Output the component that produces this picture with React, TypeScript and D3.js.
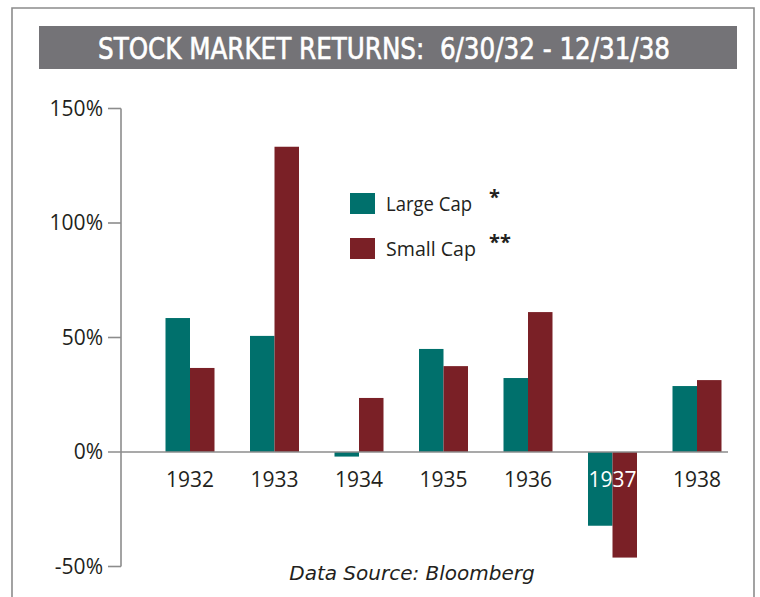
import React from "react";
import * as d3 from "d3";

const years = ["1932", "1933", "1934", "1935", "1936", "1937", "1938"];
const largeCap = [58.5, 50.7, -2.0, 45.0, 32.3, -32.2, 28.8];
const smallCap = [36.7, 133.3, 23.6, 37.5, 61.1, -46.1, 31.4];
const seriesNames = ["Large Cap", "Small Cap"];
const seriesMarks = ["*", "**"];
const seriesColors = ["#00706C", "#7A2026"];
const yTicks = [150, 100, 50, 0, -50];
const title = "STOCK MARKET RETURNS:\u00A0 6/30/32 - 12/31/38";
const source = "Data Source: Bloomberg";

export default function App() {
  const W = 760, H = 597;
  const axisX = 121;
  const baselineEnd = 728;
  const y = d3.scaleLinear().domain([-50, 150]).range([566.5, 108.5]);
  const x = d3.scaleBand<string>().domain(years).range([147.75, 739.25]).padding(0);
  const inner = d3.scaleBand<string>().domain(seriesNames).range([0, 49]).padding(0);
  const groupOffset = (x.bandwidth() - 49) / 2;
  const data = [largeCap, smallCap];
  const textColor = "#231F20";
  const axisColor = "#8C8C8C";
  const labelFont = "'Open Sans', sans-serif";

  return (
    <svg width={W} height={H} style={{ position: "absolute", left: 0, top: 0, display: "block" }}>
      <rect x={0} y={0} width={W} height={H} fill="#fff" />
      {/* frame */}
      <path d={`M12,${H + 5} L12,8 L754,8 L754,${H + 5}`} fill="none" stroke={axisColor} strokeWidth={1.6} />
      {/* title bar */}
      <rect x={39} y={26} width={698} height={43} fill="#747377" />
      <text x={384} y={59} textAnchor="middle" fill="#fff"
        style={{ fontFamily: "'Liberation Sans Narrow', 'DejaVu Sans Condensed', sans-serif", fontWeight: 400, fontSize: 30, stroke: "#fff", strokeWidth: 0.6 }}
        textLength={572} lengthAdjust="spacingAndGlyphs">{title}</text>

      {/* bars */}
      {data.map((vals, si) =>
        years.map((yr, i) => {
          const v = vals[i];
          const x0 = (x(yr) as number) + groupOffset + (inner(seriesNames[si]) as number);
          const y0 = y(Math.max(0, v));
          const h = Math.abs(y(v) - y(0));
          return <rect key={`${si}-${yr}`} x={x0} y={y0} width={inner.bandwidth()} height={h} fill={seriesColors[si]} />;
        })
      )}

      {/* y axis */}
      <line x1={axisX} x2={axisX} y1={y(150)} y2={y(-50)} stroke={axisColor} strokeWidth={1.6} />
      {yTicks.map((t) => (
        <g key={t}>
          <line x1={108} x2={t === 0 ? baselineEnd : axisX} y1={y(t)} y2={y(t)} stroke={axisColor} strokeWidth={1.6} />
          <text x={103} y={y(t)} dy="0.35em" textAnchor="end" fill={textColor}
            style={{ fontFamily: labelFont, fontSize: 21 }}>{`${t}%`}</text>
        </g>
      ))}

      {/* x labels */}
      {years.map((yr, i) => {
        const inside = Math.min(largeCap[i], smallCap[i]) < -15;
        return (
          <text key={yr} x={(x(yr) as number) + x.bandwidth() / 2} y={487} textAnchor="middle"
            fill={inside ? "#fff" : textColor} style={{ fontFamily: labelFont, fontSize: 21 }}>{yr}</text>
        );
      })}

      {/* legend */}
      {seriesNames.map((s, i) => (
        <g key={s} transform={`translate(350, ${193 + i * 45})`}>
          <rect x={0} y={0} width={25} height={21} fill={seriesColors[i]} />
          <text x={36} y={10.5} dy="0.35em" fill={textColor} style={{ fontFamily: labelFont, fontSize: 20 }}
            textLength={i === 0 ? 86 : 90} lengthAdjust="spacingAndGlyphs">{s}</text>
          <text x={139} y={4} dy="0.35em" fill={textColor} style={{ fontFamily: labelFont, fontSize: 20, fontWeight: 700 }}>{seriesMarks[i]}</text>
        </g>
      ))}

      {/* source */}
      <text x={412} y={580} textAnchor="middle" fill={textColor}
        style={{ fontFamily: "'DejaVu Sans', sans-serif", fontStyle: "italic", fontSize: 20 }}>{source}</text>
    </svg>
  );
}
